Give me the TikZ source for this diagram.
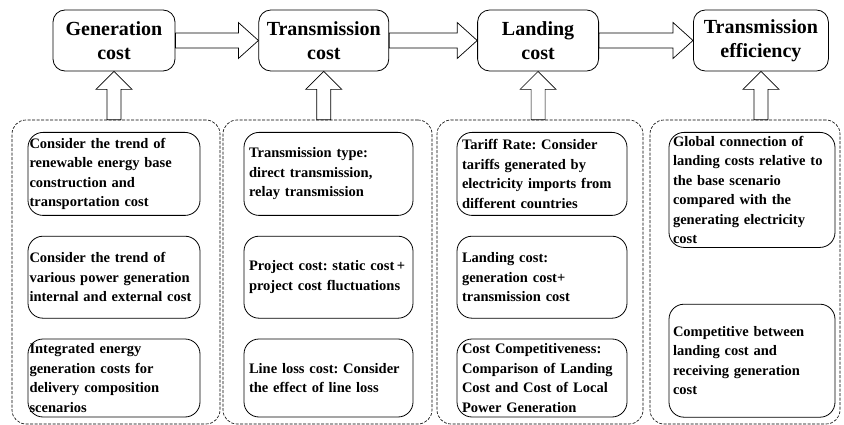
\documentclass[tikz,border=0pt]{standalone}
\usepackage{fontspec}
\setmainfont{Liberation Serif}
\frenchspacing
\usetikzlibrary{positioning}
\usetikzlibrary{calc}

\tikzset{stage/.style={draw, line width=0.8pt, rounded corners=12pt, minimum height=61pt, inner sep=2pt, align=center, font=\fontsize{20}{24}\selectfont\bfseries}}
\tikzset{group/.style={draw, line width=0.6pt, dash pattern=on 3pt off 1.5pt, rounded corners=14pt, inner sep=0pt}}
\tikzset{item/.style={draw, line width=0.8pt, rounded corners=15pt, align=left, inner ysep=1pt, font=\fontsize{14.5}{19.5}\selectfont\bfseries}}
\tikzset{colA/.style={item, inner xsep=1.5pt, text width=169pt}}
\tikzset{colB/.style={item, inner xsep=5pt, text width=159pt}}
\tikzset{colC/.style={item, inner xsep=5pt, text width=160pt}}
\tikzset{colD/.style={item, inner xsep=4pt, text width=158pt}}
\tikzset{bigarrow/.style={draw, line width=0.7pt, fill=white, line join=miter}}

% hollow block arrows
\newcommand{\sidearrow}[2]{%
  \path [bigarrow] ($(#1.east)+(0,7.5)$) -- ($(#2.west)+(-20,7.5)$)
    -- ($(#2.west)+(-20,18)$) -- (#2.west) -- ($(#2.west)+(-20,-18)$)
    -- ($(#2.west)+(-20,-7.5)$) -- ($(#1.east)+(0,-7.5)$) -- cycle;}
\newcommand{\feedarrow}[2]{%
  \path [bigarrow] ($(#2.south |- #1.north)+(-7,0)$) -- ($(#2.south)+(-7,-18)$)
    -- ($(#2.south)+(-18,-18)$) -- (#2.south) -- ($(#2.south)+(18,-18)$)
    -- ($(#2.south)+(7,-18)$) -- ($(#2.south |- #1.north)+(7,0)$) -- cycle;}

\begin{document}
\begin{tikzpicture}[x=1pt, y=1pt]
\useasboundingbox (0,0) rectangle (844,-425);

\node (G) [stage, minimum width=122pt] at (114,-40.5) {Generation\\cost};
\node (T) [stage, minimum width=130pt, right=83pt of G] {Transmission\\cost};
\node (L) [stage, minimum width=121pt, right=88pt of T] {Landing\\cost};
\node (E) [stage, minimum width=135pt, right=94pt of L] {Transmission\\efficiency};

\node (gA) [group, minimum width=208pt, minimum height=304pt] at (116,-272) {};
\node (gB) [group, minimum width=209pt, minimum height=304pt] at (327.5,-272) {};
\node (gC) [group, minimum width=206pt, minimum height=304pt] at (540,-272) {};
\node (gD) [group, minimum width=190pt, minimum height=304pt] at (745,-272) {};

\node (a1) [colA, minimum height=83pt, anchor=north] at (114,-132) {Consider the trend of\\renewable energy base\\construction and\\transportation cost};
\node (a2) [colA, minimum height=82pt, below=20pt of a1] {Consider the trend of\\various power generation\\internal and external cost};
\node (a3) [colA, minimum height=78pt, below=20pt of a2] {Integrated energy\\generation costs for\\delivery composition\\scenarios};

\node (b1) [colB, minimum height=83pt, anchor=north] at (328.5,-132) {Transmission type:\\direct transmission,\\relay transmission};
\node (b2) [colB, minimum height=82pt, below=20pt of b1] {Project cost: static cost\,+\\project cost fluctuations};
\node (b3) [colB, minimum height=78pt, below=20pt of b2] {Line loss cost: Consider\\the effect of line loss};

\node (c1) [colC, minimum height=83pt, anchor=north] at (542,-132) {Tariff Rate: Consider\\tariffs generated by\\electricity imports from\\different countries};
\node (c2) [colC, minimum height=82pt, below=20pt of c1] {Landing cost:\\generation cost+\\transmission cost};
\node (c3) [colC, minimum height=78pt, below=20pt of c2] {Cost Competitiveness:\\Comparison of Landing\\Cost and Cost of Local\\Power Generation};

\node (d1) [colD, minimum height=115pt, anchor=north] at (752,-132) {Global connection of\\landing costs relative to\\the base scenario\\compared with the\\generating electricity\\cost};
\node (d2) [colD, minimum height=113pt, below=56pt of d1] {Competitive between\\landing cost and\\receiving generation\\cost};

\sidearrow{G}{T}
\sidearrow{T}{L}
\sidearrow{L}{E}
\feedarrow{gA}{G}
\feedarrow{gB}{T}
\feedarrow{gC}{L}
\feedarrow{gD}{E}
\end{tikzpicture}
\end{document}
